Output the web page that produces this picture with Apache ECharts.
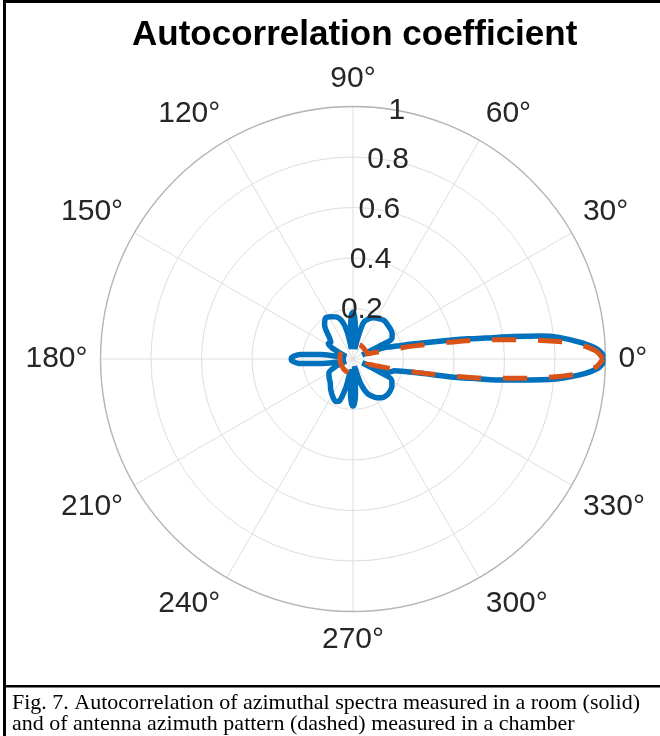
<!DOCTYPE html>
<html>
<head>
<meta charset="utf-8">
<script src="https://cdn.jsdelivr.net/npm/echarts@6/dist/echarts.min.js"></script>
<style>
  html, body { margin: 0; padding: 0; background: #fff; }
  #chart { width: 660px; height: 736px; }
</style>
</head>
<body>
<div id="chart"></div>
<script>
// Measured room autocorrelation (solid): angle in degrees, coefficient
var roomAngles = [0, 2, 4, 6, 7, 8, 9, 10, 11, 12, 14, 16, 18, 20, 22, 24,
  26, 28, 33, 39, 45, 51, 57, 63, 69, 74, 77, 80,
  84, 86, 88, 90, 92, 94, 96, 99,
  102, 106, 112, 118, 124, 130, 134, 138, 143, 148, 152, 156, 160,
  168, 172, 175, 178, 180, 182, 185, 188, 192, 198,
  204, 210, 218, 226, 234, 242, 248, 252, 256, 259,
  263, 266, 268, 270, 272, 274, 277, 281,
  285, 288, 293, 300, 306, 312, 318, 325, 331, 334, 337, 339, 341,
  344, 346, 348, 349, 350, 351, 352, 353, 354, 356, 358, 360];
var roomValues = [1.00, 0.975, 0.91, 0.82, 0.75, 0.64, 0.53, 0.46, 0.39, 0.33, 0.25, 0.19, 0.155, 0.13, 0.08, 0.04,
  0.12, 0.175, 0.185, 0.19, 0.193, 0.196, 0.19, 0.183, 0.17, 0.15, 0.09, 0.04,
  0.07, 0.13, 0.17, 0.185, 0.175, 0.13, 0.06, 0.04,
  0.11, 0.155, 0.18, 0.19, 0.195, 0.175, 0.15, 0.125, 0.11, 0.115, 0.095, 0.05, 0.03,
  0.05, 0.13, 0.21, 0.24, 0.245, 0.24, 0.21, 0.13, 0.05, 0.03,
  0.08, 0.11, 0.12, 0.13, 0.15, 0.17, 0.182, 0.175, 0.115, 0.05,
  0.07, 0.14, 0.175, 0.186, 0.175, 0.14, 0.06, 0.03,
  0.06, 0.11, 0.15, 0.175, 0.19, 0.196, 0.195, 0.188, 0.176, 0.12, 0.04, 0.10, 0.155,
  0.17, 0.20, 0.26, 0.33, 0.42, 0.50, 0.60, 0.68, 0.78, 0.90, 0.975, 1.00];

// Antenna azimuth pattern from the chamber (dashed)
var antennaAngles = [0, 2, 4, 6, 8, 10, 12, 14, 16, 18, 20, 30, 60, 90, 120, 150, 180,
  210, 240, 270, 300, 330, 340, 342, 344, 346, 348, 350, 352, 354, 356, 358, 360];
var antennaValues = [0.99, 0.96, 0.88, 0.72, 0.55, 0.38, 0.25, 0.16, 0.10, 0.07, 0.06, 0.06, 0.062, 0.062, 0.058, 0.055, 0.052,
  0.052, 0.056, 0.058, 0.06, 0.062, 0.06, 0.07, 0.10, 0.16, 0.25, 0.38, 0.55, 0.72, 0.88, 0.96, 0.99];

var radiusTicks = [0.2, 0.4, 0.6, 0.8, 1];
var radiusLabelAngle = 80;
var angleTicks = [0, 30, 60, 90, 120, 150, 180, 210, 240, 270, 300, 330];

function pairs(rs, as) {
  return rs.map(function (r, i) { return [r, as[i]]; });
}

var textColor = '#262626';
var font = 'Liberation Sans, Arial, Helvetica, sans-serif';

var chart = echarts.init(document.getElementById('chart'), null, { renderer: 'canvas' });

chart.setOption({
  animation: false,
  backgroundColor: '#ffffff',
  title: {
    text: 'Autocorrelation coefficient',
    left: 127,
    top: 13,
    textStyle: { fontFamily: font, fontWeight: 'bold', fontSize: 35, color: '#000' }
  },
  polar: { center: [353, 359], radius: 252.5 },
  angleAxis: {
    type: 'value',
    min: 0, max: 360, interval: 30,
    startAngle: 0, clockwise: false,
    axisLine: { show: true, lineStyle: { color: '#b5b5b5', width: 1.3 } },
    axisTick: { show: false },
    axisLabel: {
      margin: 13,
      color: textColor, fontFamily: font, fontSize: 30,
      formatter: function (v) { return angleTicks.indexOf(v) >= 0 ? v + '°' : ''; }
    },
    splitLine: { show: true, lineStyle: { color: '#dedede', width: 1 } }
  },
  radiusAxis: {
    type: 'value',
    min: 0, max: 1, interval: 0.2,
    axisLine: { show: false },
    axisTick: { show: false },
    axisLabel: { show: false },
    splitLine: { show: true, lineStyle: { color: '#dedede', width: 1 } }
  },
  graphic: [
    { type: 'rect', shape: { x: 3, y: 0, width: 660, height: 3 }, style: { fill: '#000' }, z: 100 },
    { type: 'rect', shape: { x: 3, y: 0, width: 3, height: 736 }, style: { fill: '#000' }, z: 100 },
    { type: 'rect', shape: { x: 3, y: 685, width: 660, height: 2.5 }, style: { fill: '#000' }, z: 100 },
    { type: 'text', left: 12, top: 692, style: {
        text: 'Fig. 7. Autocorrelation of azimuthal spectra measured in a room (solid)\nand of antenna azimuth pattern (dashed) measured in a chamber',
        fontFamily: 'Liberation Serif, Times New Roman, serif', fontSize: 22, lineHeight: 21, fill: '#000' }, z: 100 }
  ],
  series: [
    {
      name: 'room',
      type: 'line',
      coordinateSystem: 'polar',
      data: pairs(roomValues, roomAngles),
      showSymbol: false,
      smooth: 0.3,
      lineStyle: { color: '#0072BD', width: 5.5 },
      z: 3
    },
    {
      name: 'antenna',
      type: 'line',
      coordinateSystem: 'polar',
      data: pairs(antennaValues, antennaAngles),
      showSymbol: false,
      smooth: 0.3,
      lineStyle: { color: '#D95319', width: 5, type: [24, 22], cap: 'butt' },
      z: 4
    },
    {
      name: 'radius labels',
      type: 'scatter',
      coordinateSystem: 'polar',
      data: radiusTicks.map(function (r) { return [r, radiusLabelAngle]; }),
      symbolSize: 0,
      silent: true,
      itemStyle: { opacity: 1 },
      label: {
        show: true, position: 'inside',
        color: textColor, fontFamily: font, fontSize: 30, opacity: 1,
        formatter: function (p) { return String(p.value[0]); }
      },
      z: 6
    }
  ]
});
</script>
</body>
</html>
